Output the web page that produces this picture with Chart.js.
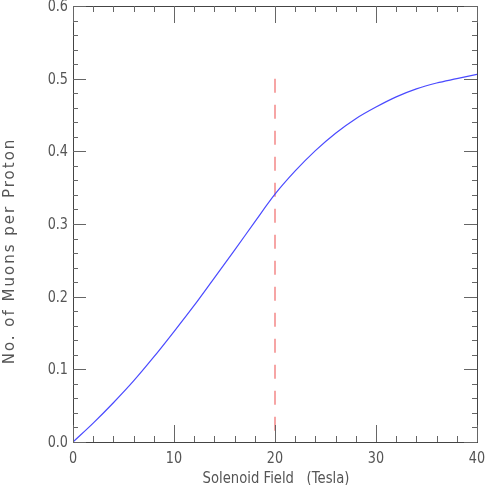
<!DOCTYPE html>
<html>
<head>
<meta charset="utf-8">
<script src="https://cdn.jsdelivr.net/npm/chart.js@4/dist/chart.umd.min.js"></script>
<style>
html,body{margin:0;padding:0;background:#fff;}
#wrap{width:485px;height:485px;position:relative;}
</style>
</head>
<body>
<div id="wrap"><canvas id="c" width="485" height="485"></canvas></div>
<script>
// ---- data ----
const fieldT = [0, 2, 4, 6, 8, 10, 12, 14, 16, 18, 20, 22, 24, 26, 28, 30, 32, 34, 36, 38, 40];
const muonsPerProton = [0, 0.026, 0.054, 0.084, 0.117, 0.152, 0.188, 0.226, 0.264, 0.303, 0.341, 0.373, 0.401, 0.425, 0.445, 0.461, 0.475, 0.486, 0.494, 0.500, 0.506];
const cutX = [20, 20];
const cutY = [0.5, 0];
const xMajorTicks = [0, 10, 20, 30, 40];
const yMajorTicks = [0, 0.1, 0.2, 0.3, 0.4, 0.5, 0.6];
const xTickLabels = ["0", "10", "20", "30", "40"];
const yTickLabels = ["0.0", "0.1", "0.2", "0.3", "0.4", "0.5", "0.6"];
const xMinorStep = 2;
const yMinorStep = 0.02;
const xTitle = "Solenoid Field   (Tesla)";
const yTitle = "No. of Muons per Proton";

const FONT = '"DejaVu Sans",sans-serif';

function condensedText(ctx, txt, x, y, align, sx) {
  ctx.save();
  ctx.translate(x, y);
  ctx.scale(sx, 1);
  ctx.textAlign = align;
  ctx.fillText(txt, 0, 0);
  ctx.restore();
}

const framePlugin = {
  id: 'frame',
  afterDraw(chart) {
    const ctx = chart.ctx, a = chart.chartArea;
    const xs = chart.scales.x, ys = chart.scales.y;
    ctx.save();
    ctx.strokeStyle = '#444';
    ctx.lineWidth = 1;
    ctx.strokeRect(Math.round(a.left) + 0.5, Math.round(a.top) + 0.5, Math.round(a.right - a.left), Math.round(a.bottom - a.top));
    ctx.strokeStyle = '#666';
    ctx.beginPath();
    for (let v = xs.min; v <= xs.max + 1e-9; v += xMinorStep) {
      const major = xMajorTicks.some(t => Math.abs(t - v) < 1e-9);
      const len = major ? 17 : 6;
      const px = Math.round(xs.getPixelForValue(v)) + 0.5;
      ctx.moveTo(px, a.bottom); ctx.lineTo(px, a.bottom - len);
      ctx.moveTo(px, a.top); ctx.lineTo(px, a.top + len);
    }
    for (let v = ys.min; v <= ys.max + 1e-9; v += yMinorStep) {
      const major = yMajorTicks.some(t => Math.abs(t - v) < 1e-9);
      const len = major ? 13 : 5;
      const py = Math.round(ys.getPixelForValue(v)) + 0.5;
      ctx.moveTo(a.left, py); ctx.lineTo(a.left + len, py);
      ctx.moveTo(a.right, py); ctx.lineTo(a.right - len, py);
    }
    ctx.stroke();
    // tick labels
    ctx.fillStyle = '#555';
    ctx.font = '16px ' + FONT;
    ctx.textBaseline = 'middle';
    yMajorTicks.forEach((v, i) => {
      condensedText(ctx, yTickLabels[i], a.left - 5, ys.getPixelForValue(v) + 1, 'right', 0.8);
    });
    ctx.textBaseline = 'top';
    xMajorTicks.forEach((v, i) => {
      condensedText(ctx, xTickLabels[i], xs.getPixelForValue(v), a.bottom + 9, 'center', 0.8);
    });
    // titles
    ctx.font = '15px ' + FONT;
    ctx.textBaseline = 'alphabetic';
    condensedText(ctx, xTitle, (a.left + a.right) / 2 + 1, 483, 'center', 0.88);
    ctx.translate(14, 251);
    ctx.rotate(-Math.PI / 2);
    ctx.letterSpacing = '2px';
    ctx.textAlign = 'center';
    ctx.fillText(yTitle, 0, 0);
    ctx.restore();
  }
};

new Chart(document.getElementById('c'), {
  type: 'scatter',
  data: {
    datasets: [
      {
        data: fieldT.map((x, i) => ({ x: x, y: muonsPerProton[i] })),
        showLine: true, borderColor: '#4a4aff', borderWidth: 1.2,
        pointRadius: 0, cubicInterpolationMode: 'monotone'
      },
      {
        data: cutX.map((x, i) => ({ x: x, y: cutY[i] })),
        showLine: true, borderColor: '#f06a6a', borderWidth: 1.2,
        borderDash: [14, 12], pointRadius: 0
      }
    ]
  },
  options: {
    responsive: false, animation: false,
    layout: { padding: { top: 6, right: 8, left: 0, bottom: 0 } },
    plugins: { legend: { display: false }, tooltip: { enabled: false } },
    scales: {
      x: {
        type: 'linear', min: 0, max: 40,
        afterFit(s) { s.height = 43; s.paddingLeft = 0; s.paddingRight = 0; },
        grid: { display: false }, border: { display: false },
        ticks: { display: false, stepSize: 10 }
      },
      y: {
        type: 'linear', min: 0, max: 0.6,
        afterFit(s) { s.width = 73; s.paddingTop = 0; s.paddingBottom = 0; },
        grid: { display: false }, border: { display: false },
        ticks: { display: false, stepSize: 0.1 }
      }
    }
  },
  plugins: [framePlugin]
});
</script>
</body>
</html>
